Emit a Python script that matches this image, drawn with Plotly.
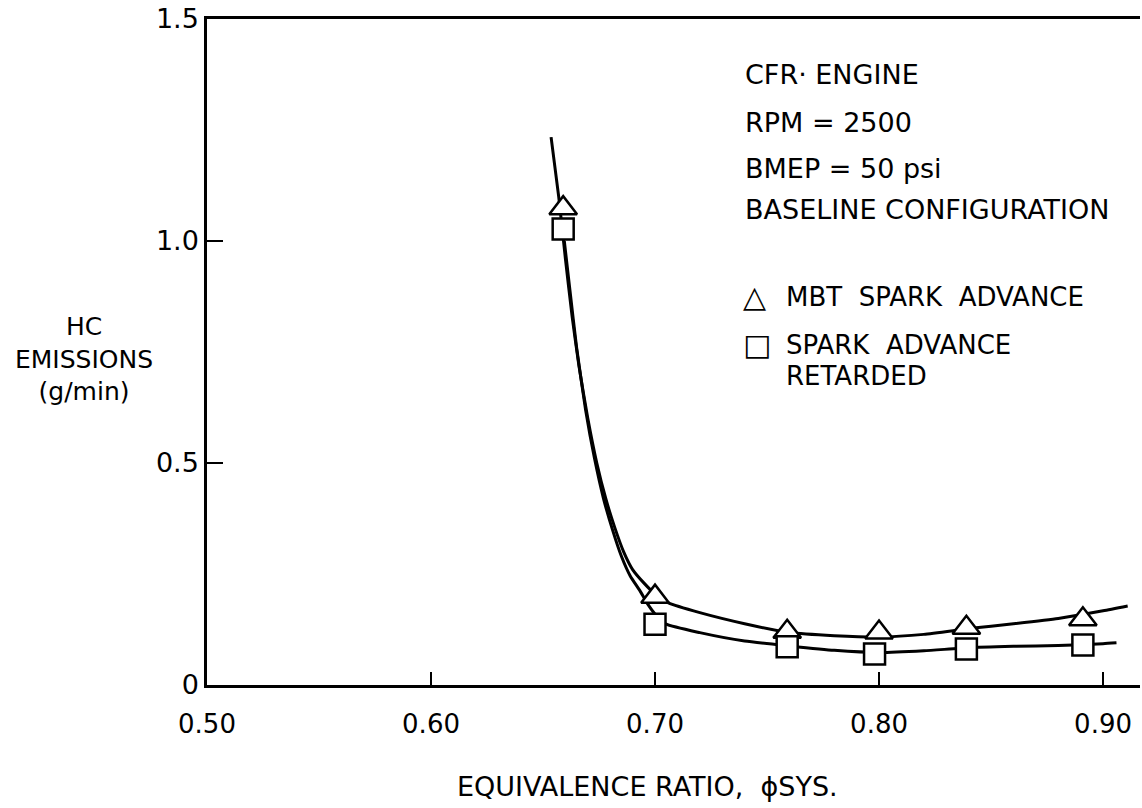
import plotly.graph_objects as go

# ---- data ----
phi_mbt = [0.659, 0.700, 0.759, 0.800, 0.839, 0.891]
hc_mbt = [1.074, 0.199, 0.120, 0.118, 0.129, 0.148]

phi_ret = [0.659, 0.700, 0.759, 0.798, 0.839, 0.891]
hc_ret = [1.027, 0.137, 0.086, 0.070, 0.081, 0.090]

# faired curves
fit_mbt_x = [0.6536, 0.657, 0.660, 0.663, 0.666, 0.670, 0.674, 0.678, 0.682, 0.686, 0.690,
             0.695, 0.700, 0.706, 0.720, 0.740, 0.760, 0.780, 0.800, 0.820, 0.840, 0.860,
             0.880, 0.900, 0.911]
fit_mbt_y = [1.234, 1.10, 0.96, 0.83, 0.72, 0.60, 0.50, 0.42, 0.355, 0.30, 0.26,
             0.23, 0.205, 0.185, 0.163, 0.138, 0.118, 0.111, 0.108, 0.114, 0.127, 0.138,
             0.150, 0.167, 0.178]

fit_ret_x = [0.6595, 0.662, 0.665, 0.669, 0.673, 0.677, 0.681, 0.685, 0.689, 0.6933, 0.6964,
             0.700, 0.705, 0.720, 0.740, 0.760, 0.780, 0.800, 0.820, 0.840, 0.860, 0.880,
             0.900, 0.906]
fit_ret_y = [1.00, 0.89, 0.76, 0.62, 0.51, 0.42, 0.35, 0.29, 0.245, 0.212, 0.185,
             0.160, 0.137, 0.118, 0.099, 0.088, 0.078, 0.073, 0.077, 0.084, 0.087, 0.089,
             0.093, 0.095]

x_ticks = [0.50, 0.60, 0.70, 0.80, 0.90]
x_ticklabels = ["0.50", "0.60", "0.70", "0.80", "0.90"]
y_ticks = [0, 0.5, 1.0, 1.5]
y_ticklabels = ["0", "0.5", "1.0", "1.5"]

info_lines = ["CFR· ENGINE", "RPM = 2500", "BMEP = 50 psi", "BASELINE CONFIGURATION"]
info_y = [1.374, 1.268, 1.164, 1.070]
legend_glyphs = ["△", "□"]
legend_glyph_y = [0.874, 0.766]
legend_lines = ["MBT  SPARK  ADVANCE", "SPARK  ADVANCE", "RETARDED"]
legend_y = [0.874, 0.766, 0.695]

FONT = "DejaVu Sans"
fig = go.Figure()

fig.add_trace(go.Scatter(x=fit_mbt_x, y=fit_mbt_y, mode="lines",
                         line=dict(color="black", width=3, shape="spline", smoothing=0.5),
                         showlegend=False, hoverinfo="skip"))
fig.add_trace(go.Scatter(x=fit_ret_x, y=fit_ret_y, mode="lines",
                         line=dict(color="black", width=3, shape="spline", smoothing=0.5),
                         showlegend=False, hoverinfo="skip"))
fig.add_trace(go.Scatter(x=phi_mbt, y=hc_mbt, mode="markers", name="MBT SPARK ADVANCE",
                         marker=dict(symbol="triangle-up", size=24, color="white",
                                     line=dict(color="black", width=2.5)),
                         showlegend=False))
fig.add_trace(go.Scatter(x=phi_ret, y=hc_ret, mode="markers", name="SPARK ADVANCE RETARDED",
                         marker=dict(symbol="square", size=21, color="white",
                                     line=dict(color="black", width=2.5)),
                         showlegend=False))

annotations = []
for t, y in zip(info_lines, info_y):
    annotations.append(dict(x=0.7393, y=y, xref="x", yref="y", text=t, showarrow=False,
                            xanchor="left", yanchor="middle",
                            font=dict(family=FONT, size=27, color="black")))
for t, y in zip(legend_glyphs, legend_glyph_y):
    annotations.append(dict(x=0.7385, y=y, xref="x", yref="y", text=t, showarrow=False,
                            xanchor="left", yanchor="middle",
                            font=dict(family=FONT, size=30, color="black")))
for t, y in zip(legend_lines, legend_y):
    annotations.append(dict(x=0.7575, y=y, xref="x", yref="y", text=t, showarrow=False,
                            xanchor="left", yanchor="middle",
                            font=dict(family=FONT, size=26, color="black")))
annotations.append(dict(x=-0.132, y=0.49, xref="paper", yref="paper",
                        text="HC<br>EMISSIONS<br>(g/min)", showarrow=False,
                        xanchor="center", yanchor="middle", align="center",
                        font=dict(family=FONT, size=25, color="black")))
annotations.append(dict(x=0.4716, y=-0.153, xref="paper", yref="paper",
                        text="EQUIVALENCE RATIO,  ϕSYS.", showarrow=False,
                        xanchor="center", yanchor="middle",
                        font=dict(family=FONT, size=27, color="black")))

fig.update_layout(
    width=1142, height=808,
    margin=dict(l=207, r=2, t=19, b=123),
    paper_bgcolor="white", plot_bgcolor="white",
    annotations=annotations,
    showlegend=False,
)
fig.update_xaxes(range=[0.50, 0.9165], tickvals=x_ticks, ticktext=x_ticklabels,
                 showgrid=False, zeroline=False, showline=True, linecolor="black", linewidth=2.5,
                 mirror=True, ticks="inside", ticklen=13, tickwidth=2, tickcolor="black",
                 ticklabelstandoff=14,
                 tickfont=dict(family=FONT, size=26, color="black"))
fig.update_yaxes(range=[0, 1.5], tickvals=y_ticks, ticktext=y_ticklabels,
                 showgrid=False, zeroline=False, showline=True, linecolor="black", linewidth=2.5,
                 ticks="inside", ticklen=16, tickwidth=2, tickcolor="black",
                 tickfont=dict(family=FONT, size=27, color="black"))

fig.write_html("out.html")
